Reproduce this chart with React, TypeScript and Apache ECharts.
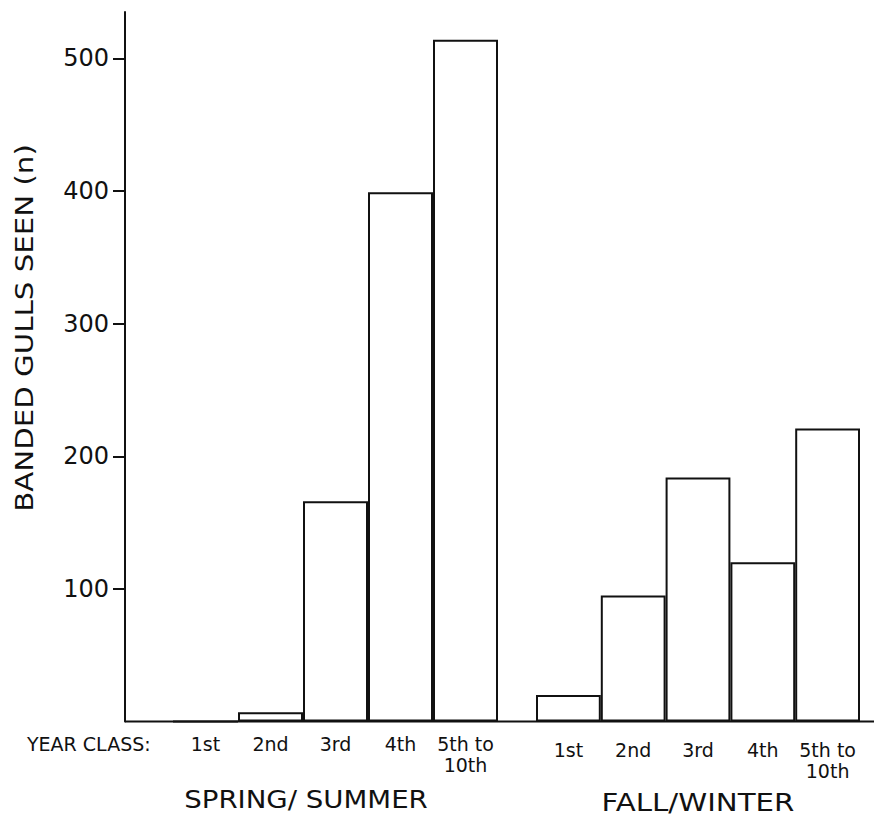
import React, { useEffect, useRef } from 'react';
import * as echarts from 'echarts';

const yearClasses = ['1st', '2nd', '3rd', '4th', '5th to\n10th'];
const springSummer = [0, 7, 166, 399, 514];
const fallWinter = [20, 95, 184, 120, 221];
const yTicks = [100, 200, 300, 400, 500];
const yMax = 535;

const yTitle = 'BANDED GULLS SEEN (n)';
const rowTitle = 'YEAR CLASS:';
const springTitle = 'SPRING/ SUMMER';
const fallTitle = 'FALL/WINTER';

export default function App() {
  const ref = useRef<HTMLDivElement>(null);
  useEffect(() => {
    const chart = echarts.init(ref.current!, null, { renderer: 'svg' });
    const fam = 'DejaVu Sans';
    const ink = '#111';
    const barStyle = { color: 'rgba(255,255,255,0)', borderColor: ink, borderWidth: 2 };
    const xLabel = (margin: number) => ({
      margin,
      fontFamily: fam,
      fontSize: 19,
      color: ink,
      lineHeight: 21,
      interval: 0,
    });
    const txt = (text: string, x: number, y: number, size: number, align: string, extra: any = {}) => ({
      type: 'text',
      x,
      y,
      ...extra,
      style: {
        text,
        fill: ink,
        font: `${size}px "${fam}"`,
        align,
        verticalAlign: 'middle',
        textAlign: align,
        textVerticalAlign: 'middle',
      },
    });
    chart.setOption({
      animation: false,
      backgroundColor: '#fff',
      grid: [
        { left: 173, top: 12, width: 325, bottom: 96.5 },
        { left: 536, top: 12, width: 324, bottom: 96.5 },
      ],
      xAxis: [
        {
          type: 'category', gridIndex: 0, data: yearClasses,
          axisLine: { show: false }, axisTick: { show: false },
          axisLabel: xLabel(12),
        },
        {
          type: 'category', gridIndex: 1, data: yearClasses,
          axisLine: { show: false }, axisTick: { show: false },
          axisLabel: xLabel(18),
        },
      ],
      yAxis: [
        {
          type: 'value', gridIndex: 0, min: 0, max: yMax, offset: 48,
          axisLine: { show: true, lineStyle: { color: ink, width: 2 } },
          axisTick: { show: true, length: 12, customValues: yTicks, lineStyle: { color: ink, width: 2 } },
          axisLabel: { customValues: yTicks, margin: 16, fontFamily: fam, fontSize: 24, color: ink },
          splitLine: { show: false },
        },
        { type: 'value', gridIndex: 1, min: 0, max: yMax, show: false, splitLine: { show: false } },
      ],
      series: [
        { type: 'bar', xAxisIndex: 0, yAxisIndex: 0, data: springSummer, barWidth: '100%', itemStyle: barStyle },
        { type: 'bar', xAxisIndex: 1, yAxisIndex: 1, data: fallWinter, barWidth: '100%', itemStyle: barStyle },
      ],
      graphic: [
        { type: 'line', shape: { x1: 125, y1: 721.5, x2: 874, y2: 721.5 }, style: { stroke: ink, lineWidth: 2 } },
        txt(yTitle, 24, 328, 24, 'center', { rotation: Math.PI / 2, scaleX: 1.22 }),
        txt(rowTitle, 27, 744, 19, 'left'),
        txt(springTitle, 306, 800, 24, 'center', { scaleX: 1.15 }),
        txt(fallTitle, 698, 802, 24, 'center', { scaleX: 1.22 }),
      ],
    });
    return () => chart.dispose();
  }, []);
  return <div ref={ref} style={{ position: 'fixed', left: 0, top: 0, width: 874, height: 818 }} />;
}
